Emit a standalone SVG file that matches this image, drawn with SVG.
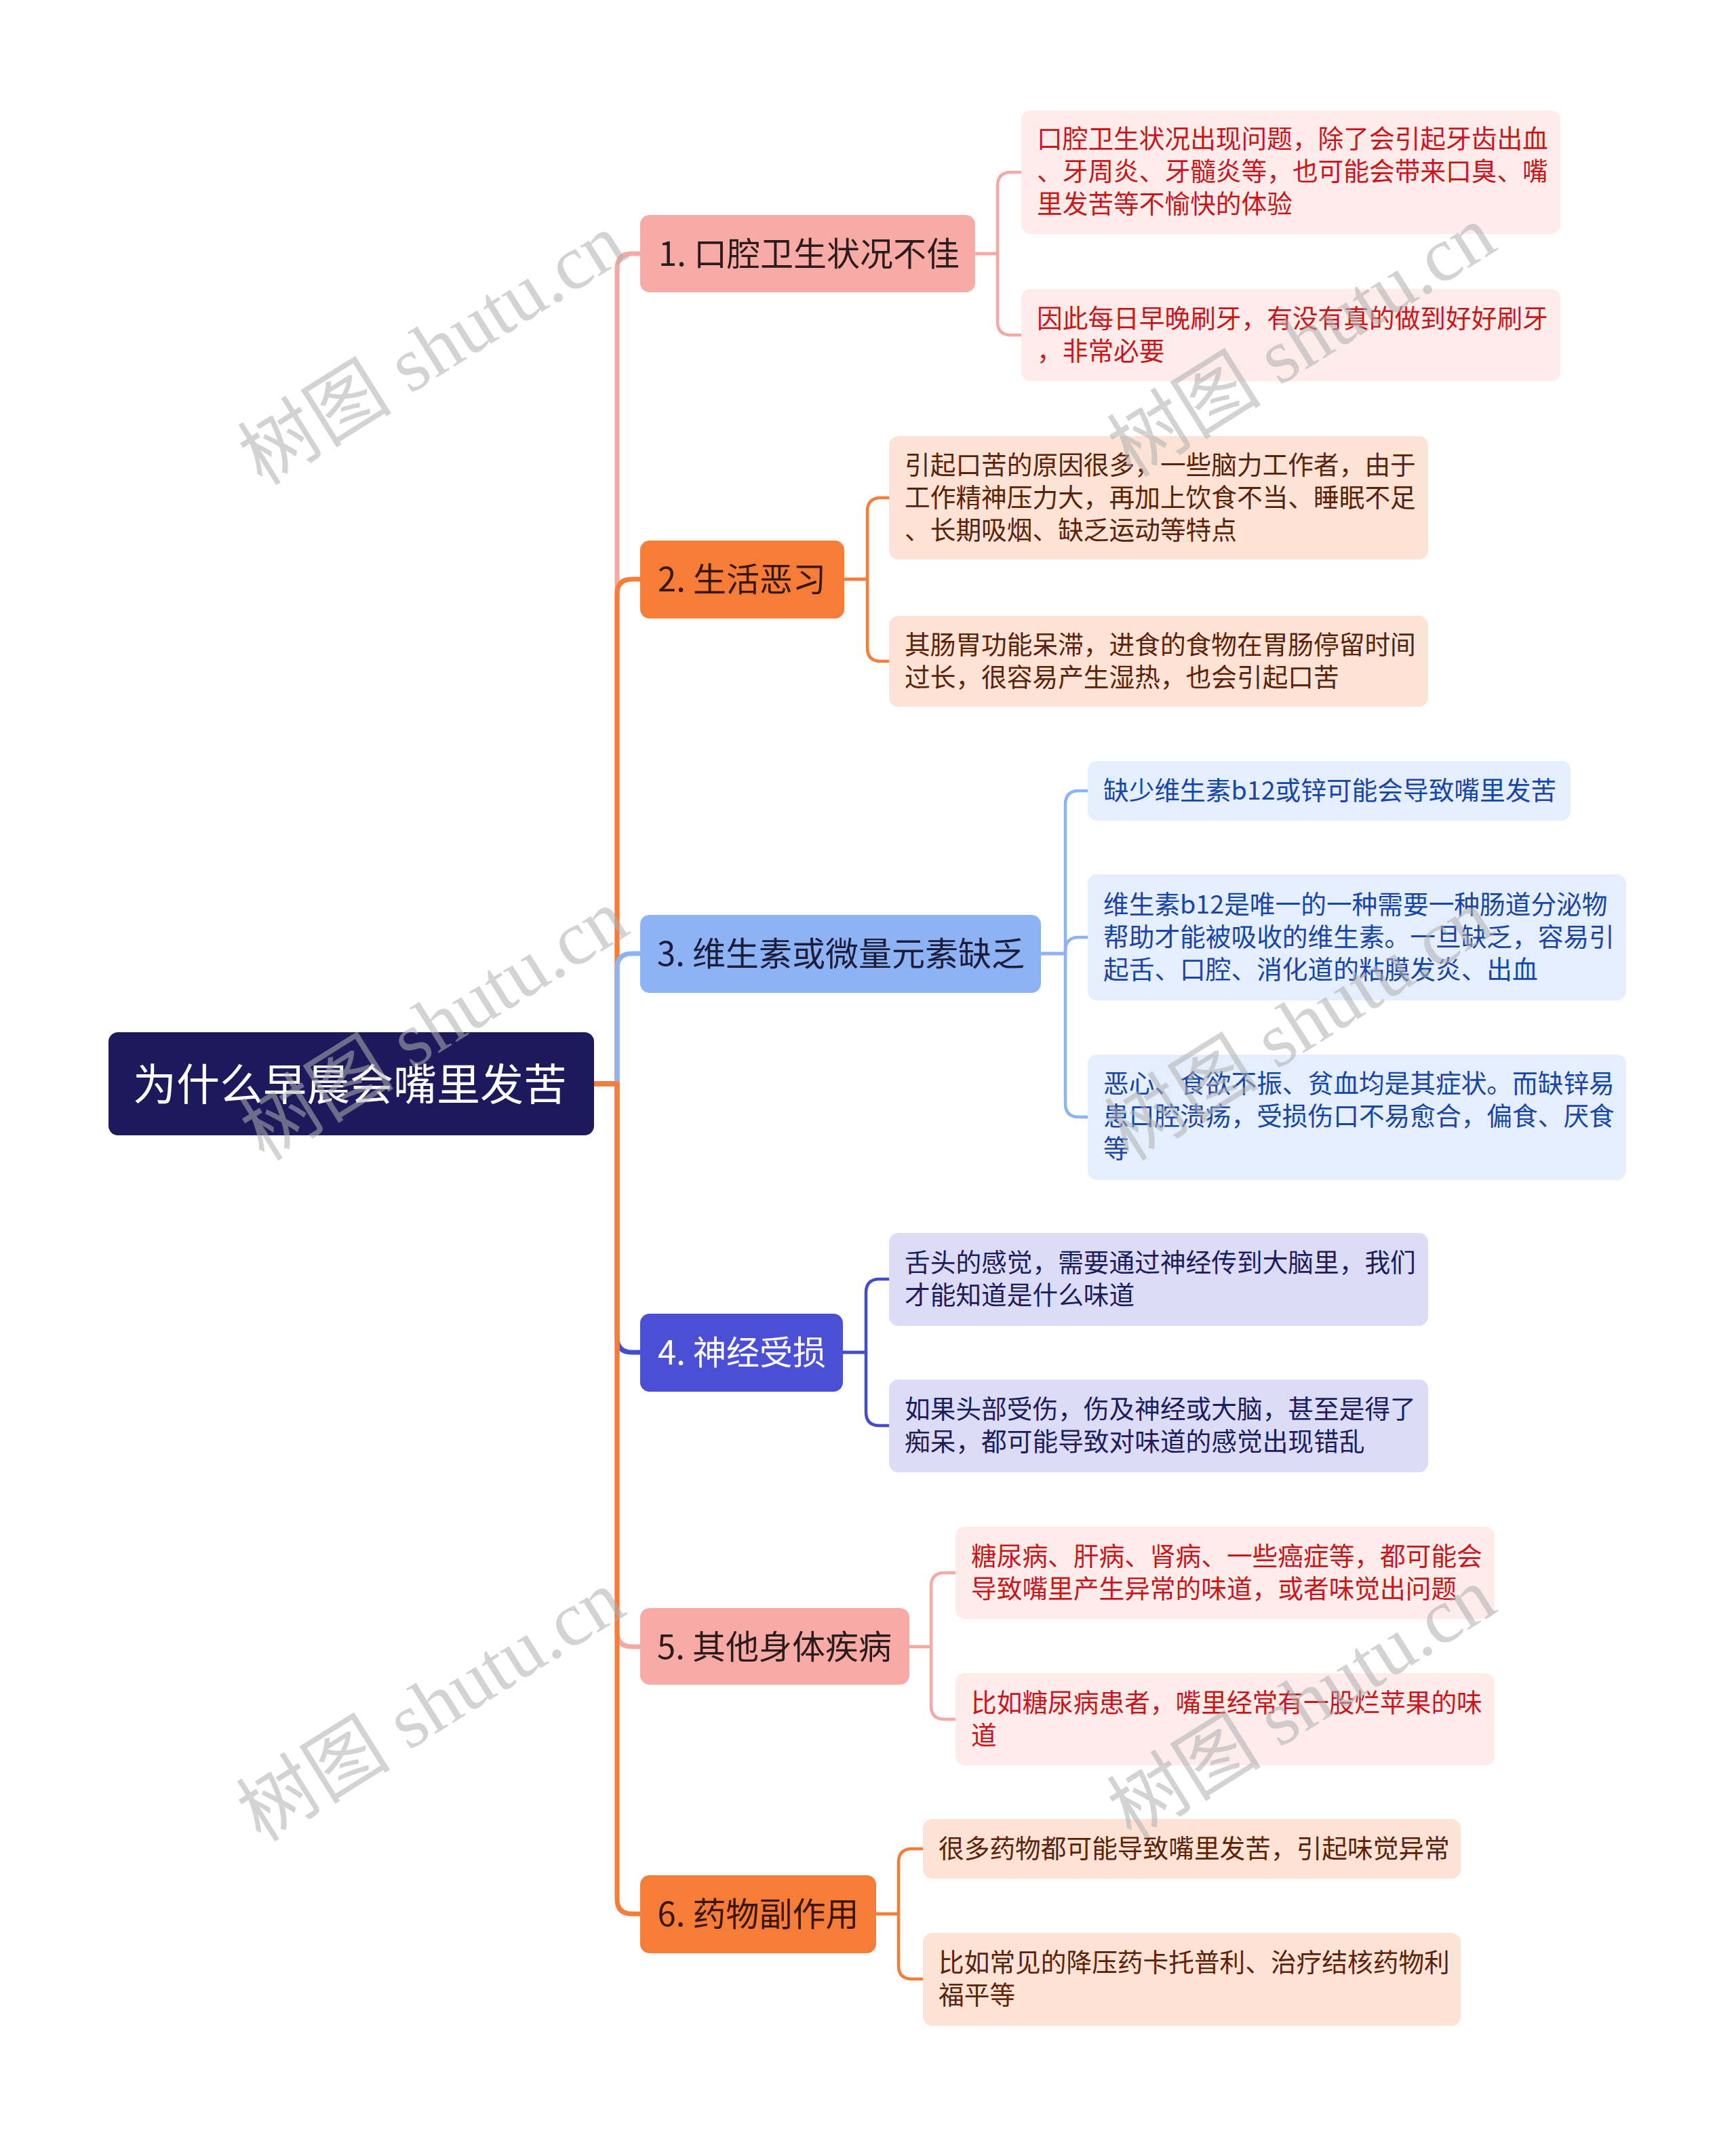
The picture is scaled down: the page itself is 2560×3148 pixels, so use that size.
<svg xmlns="http://www.w3.org/2000/svg" width="2560" height="3148" viewBox="0 0 2560 3148">
<style>
.t{font-family:"Noto Sans CJK SC","Noto Sans",sans-serif}
.c{font-size:37.7px}
.n{font-size:49px}
.wm{font-family:"Liberation Serif","Noto Sans CJK SC",serif;font-size:114px;fill:#b0b0b0;opacity:0.55}
.con{fill:none;stroke-linejoin:round;stroke-linecap:round}
.tr{stroke-width:7}
.br{stroke-width:4.5}
.pk{stroke:#f6a8a4}
.or{stroke:#f57d38}
.bl{stroke:#8db3f4}
.in{stroke:#434bcf}
</style>
<rect width="2560" height="3148" fill="#ffffff"/>
<g id="connectors">
<path class="con tr pk" d="M876 1598 H910 V396 Q910 374 932 374 H944"/>
<path class="con tr or" d="M876 1598 H910 V876 Q910 854 932 854 H944"/>
<path class="con tr bl" d="M876 1598 H910 V1428 Q910 1406 932 1406 H944"/>
<path class="con tr in" d="M876 1598 H910 V1972 Q910 1994 932 1994 H944"/>
<path class="con tr pk" d="M876 1598 H910 V2406 Q910 2428 932 2428 H944"/>
<path class="con tr or" d="M876 1598 H910 V2800 Q910 2822 932 2822 H944"/>
<path class="con br pk" d="M1438 374 H1471 V274 Q1471 254 1491 254 H1506"/>
<path class="con br pk" d="M1438 374 H1471 V474 Q1471 494 1491 494 H1506"/>
<path class="con br or" d="M1245 854 H1279 V754 Q1279 734 1299 734 H1311"/>
<path class="con br or" d="M1245 854 H1279 V955 Q1279 975 1299 975 H1311"/>
<path class="con br bl" d="M1535 1406 H1571 V1186 Q1571 1166 1591 1166 H1604"/>
<path class="con br bl" d="M1535 1406 H1571 V1402 Q1571 1382 1591 1382 H1604"/>
<path class="con br bl" d="M1535 1406 H1571 V1627 Q1571 1647 1591 1647 H1604"/>
<path class="con br in" d="M1243 1994 H1277 V1906 Q1277 1886 1297 1886 H1311"/>
<path class="con br in" d="M1243 1994 H1277 V2082 Q1277 2102 1297 2102 H1311"/>
<path class="con br pk" d="M1341 2428 H1373 V2339 Q1373 2319 1393 2319 H1409"/>
<path class="con br pk" d="M1341 2428 H1373 V2515 Q1373 2535 1393 2535 H1409"/>
<path class="con br or" d="M1292 2822 H1325 V2746 Q1325 2726 1345 2726 H1361"/>
<path class="con br or" d="M1292 2822 H1325 V2898 Q1325 2918 1345 2918 H1361"/>
</g>
<g id="root">
<rect x="160" y="1522" width="716" height="152" rx="14" fill="#1c1a5c"/>
<text class="t" x="516" y="1622" font-size="64" fill="#ffffff" text-anchor="middle">为什么早晨会嘴里发苦</text>
</g>
<g id="n1">
<rect x="944" y="317" width="494" height="114" rx="14" fill="#f8aaa6"/>
<text class="t n" x="1193" y="392" fill="#2b1c1c" text-anchor="middle">1. 口腔卫生状况不佳</text>
</g>
<g id="n1a">
<rect x="1506" y="163" width="795" height="182" rx="14" fill="#fdecea"/>
<text class="t c" fill="#c8161d"><tspan x="1529" y="218">口腔卫生状况出现问题，除了会引起牙齿出血</tspan><tspan x="1529" y="266">、牙周炎、牙髓炎等，也可能会带来口臭、嘴</tspan><tspan x="1529" y="314">里发苦等不愉快的体验</tspan></text>
</g>
<g id="n1b">
<rect x="1506" y="426" width="795" height="136" rx="14" fill="#fdecea"/>
<text class="t c" fill="#c8161d"><tspan x="1529" y="483">因此每日早晚刷牙，有没有真的做到好好刷牙</tspan><tspan x="1529" y="531">，非常必要</tspan></text>
</g>
<g id="n2">
<rect x="944" y="797" width="301" height="115" rx="14" fill="#f57d38"/>
<text class="t n" x="1094" y="872" fill="#3a1606" text-anchor="middle">2. 生活恶习</text>
</g>
<g id="n2a">
<rect x="1311" y="643" width="795" height="182" rx="14" fill="#fde3d5"/>
<text class="t c" fill="#5b2208"><tspan x="1334" y="699">引起口苦的原因很多，一些脑力工作者，由于</tspan><tspan x="1334" y="747">工作精神压力大，再加上饮食不当、睡眠不足</tspan><tspan x="1334" y="795">、长期吸烟、缺乏运动等特点</tspan></text>
</g>
<g id="n2b">
<rect x="1311" y="908" width="795" height="134" rx="14" fill="#fde3d5"/>
<text class="t c" fill="#5b2208"><tspan x="1334" y="964">其肠胃功能呆滞，进食的食物在胃肠停留时间</tspan><tspan x="1334" y="1012">过长，很容易产生湿热，也会引起口苦</tspan></text>
</g>
<g id="n3">
<rect x="944" y="1349" width="591" height="115" rx="14" fill="#8db3f4"/>
<text class="t n" x="1240" y="1424" fill="#1b1d3a" text-anchor="middle">3. 维生素或微量元素缺乏</text>
</g>
<g id="n3a">
<rect x="1604" y="1122" width="712" height="88" rx="14" fill="#e5eefc"/>
<text class="t c" x="1627" y="1179" fill="#1745a8">缺少维生素b12或锌可能会导致嘴里发苦</text>
</g>
<g id="n3b">
<rect x="1604" y="1289" width="794" height="186" rx="14" fill="#e5eefc"/>
<text class="t c" fill="#1745a8"><tspan x="1627" y="1347">维生素b12是唯一的一种需要一种肠道分泌物</tspan><tspan x="1627" y="1395">帮助才能被吸收的维生素。一旦缺乏，容易引</tspan><tspan x="1627" y="1443">起舌、口腔、消化道的粘膜发炎、出血</tspan></text>
</g>
<g id="n3c">
<rect x="1604" y="1555" width="794" height="185" rx="14" fill="#e5eefc"/>
<text class="t c" fill="#1745a8"><tspan x="1627" y="1611">恶心、食欲不振、贫血均是其症状。而缺锌易</tspan><tspan x="1627" y="1659">患口腔溃疡，受损伤口不易愈合，偏食、厌食</tspan><tspan x="1627" y="1707">等</tspan></text>
</g>
<g id="n4">
<rect x="944" y="1937" width="299" height="115" rx="14" fill="#4a4fd6"/>
<text class="t n" x="1094" y="2012" fill="#ffffff" text-anchor="middle">4. 神经受损</text>
</g>
<g id="n4a">
<rect x="1311" y="1818" width="795" height="137" rx="14" fill="#dcdcf6"/>
<text class="t c" fill="#1c1c5e"><tspan x="1334" y="1875">舌头的感觉，需要通过神经传到大脑里，我们</tspan><tspan x="1334" y="1923">才能知道是什么味道</tspan></text>
</g>
<g id="n4b">
<rect x="1311" y="2034" width="795" height="137" rx="14" fill="#dcdcf6"/>
<text class="t c" fill="#1c1c5e"><tspan x="1334" y="2091">如果头部受伤，伤及神经或大脑，甚至是得了</tspan><tspan x="1334" y="2139">痴呆，都可能导致对味道的感觉出现错乱</tspan></text>
</g>
<g id="n5">
<rect x="944" y="2371" width="397" height="113" rx="14" fill="#f8aaa6"/>
<text class="t n" x="1142" y="2446" fill="#2b1c1c" text-anchor="middle">5. 其他身体疾病</text>
</g>
<g id="n5a">
<rect x="1409" y="2251" width="795" height="136" rx="14" fill="#fdecea"/>
<text class="t c" fill="#c8161d"><tspan x="1432" y="2308">糖尿病、肝病、肾病、一些癌症等，都可能会</tspan><tspan x="1432" y="2356">导致嘴里产生异常的味道，或者味觉出问题</tspan></text>
</g>
<g id="n5b">
<rect x="1409" y="2467" width="795" height="136" rx="14" fill="#fdecea"/>
<text class="t c" fill="#c8161d"><tspan x="1432" y="2524">比如糖尿病患者，嘴里经常有一股烂苹果的味</tspan><tspan x="1432" y="2572">道</tspan></text>
</g>
<g id="n6">
<rect x="944" y="2765" width="348" height="115" rx="14" fill="#f57d38"/>
<text class="t n" x="1118" y="2840" fill="#3a1606" text-anchor="middle">6. 药物副作用</text>
</g>
<g id="n6a">
<rect x="1361" y="2682" width="793" height="88" rx="14" fill="#fde3d5"/>
<text class="t c" x="1384" y="2739" fill="#5b2208">很多药物都可能导致嘴里发苦，引起味觉异常</text>
</g>
<g id="n6b">
<rect x="1361" y="2850" width="793" height="137" rx="14" fill="#fde3d5"/>
<text class="t c" fill="#5b2208"><tspan x="1384" y="2907">比如常见的降压药卡托普利、治疗结核药物利</tspan><tspan x="1384" y="2955">福平等</tspan></text>
</g>
<g id="watermarks">
<text class="wm" text-anchor="middle" transform="translate(658 548) rotate(-32)">树图 shutu.cn</text>
<text class="wm" text-anchor="middle" transform="translate(1940 536) rotate(-32)">树图 shutu.cn</text>
<text class="wm" text-anchor="middle" transform="translate(661 1544) rotate(-32)">树图 shutu.cn</text>
<text class="wm" text-anchor="middle" transform="translate(1936 1544) rotate(-32)">树图 shutu.cn</text>
<text class="wm" text-anchor="middle" transform="translate(656 2548) rotate(-32)">树图 shutu.cn</text>
<text class="wm" text-anchor="middle" transform="translate(1940 2544) rotate(-32)">树图 shutu.cn</text>
</g>
</svg>
